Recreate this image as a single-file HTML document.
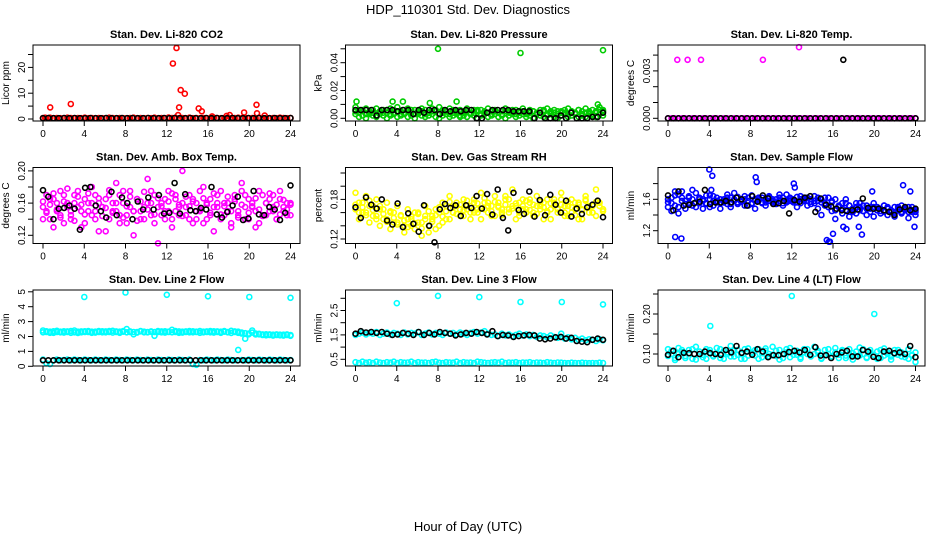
<!DOCTYPE html>
<html><head><meta charset="utf-8"><style>
body{margin:0;background:#fff}
svg{display:block;font-family:"Liberation Sans",sans-serif}
</style></head><body>
<svg id="chart" width="936" height="540" viewBox="0 0 936 540">
<text x="468" y="14" text-anchor="middle" font-size="13">HDP_110301  Std. Dev. Diagnostics</text>
<text x="468" y="531" text-anchor="middle" font-size="13">Hour of Day (UTC)</text>
</svg>
<script>
// ---- data ----
const xTicks=[0,4,8,12,16,20,24];
const co2Red=[0.4,0.3,0.5,0.3,0.4,0.3,0.3,0.5,0.4,0.3,0.4,0.3,0.5,0.3,0.4,0.3,0.4,0.3,0.3,0.5,0.4,0.3,0.4,0.3,0.3,0.4,0.5,0.3,0.4,0.3,0.4,0.3,0.5,0.3,0.4,0.3,0.6,0.4,0.5,0.3,0.4,0.3,0.5,0.3,0.4,0.3,0.4,0.3,0.3,0.5,0.4,0.3,0.4,0.3,0.3,0.4,0.5,0.3,0.4,0.3,0.4,0.3,0.5,0.3,0.4,0.3,0.4,0.3,0.5,0.4,0.3,0.4];
const co2OutT=[0.2,0.7,2.7,12.6,12.95,13.1,13.2,13.35,13.75,15.1,15.4,16.4,17.8,18.1,19.5,20.7,20.75,21.5];
const co2OutV=[0.5,4.5,5.8,21.5,27.5,1.5,4.5,11.2,9.8,4.1,3.0,1.0,1.2,1.5,2.5,5.5,2.2,1.3];
const co2Black=[0.3,0.4,0.3,0.3,0.4,0.3,0.4,0.3,0.3,0.4,0.3,0.3,0.4,0.3,0.3,0.4,0.3,0.4,0.3,0.3,0.4,0.3,0.3,0.4,0.3,0.4,0.3,0.3,0.4,0.3,0.3,0.4,0.3,0.4,0.3,0.3,0.4,0.3,0.3,0.4,0.3,0.4,0.3,0.3,0.4,0.3,0.3,0.4];
const presGreenA=[0.008,0.006,0.005,0.007,0.004,0.006,0.007,0.005,0.006,0.004,0.007,0.006,0.008,0.005,0.006,0.007,0.004,0.006,0.005,0.007,0.006,0.004,0.007,0.005,0.008,0.006,0.005,0.007,0.006,0.004,0.006,0.005,0.007,0.004,0.006,0.005,0.006,0.004,0.007,0.005,0.006,0.004,0.005,0.007,0.005,0.004,0.006,0.005,0.007,0.004,0.006,0.005,0.004,0.006,0.005,0.007,0.004,0.006,0.005,0.004,0.006,0.007,0.005,0.004,0.006,0.005,0.007,0.004,0.006,0.005,0.008,0.006];
const presGreenB=[0.003,0.001,0.002,0.000,0.003,0.002,0.001,0.003,0.002,0.000,0.002,0.003,0.001,0.002,0.003,0.001,0.002,0.000,0.003,0.002,0.001,0.002,0.003,0.001,0.000,0.002,0.003,0.001,0.002,0.003,0.001,0.002,0.001,0.003,0.002,0.000,0.002,0.003,0.001,0.002,0.003,0.001,0.002,0.000,0.002,0.003,0.001,0.002,0.003,0.001,0.002,0.000,0.003,0.002,0.001,0.002,0.003,0.001,0.000,0.002,0.003,0.001,0.002,0.003,0.001,0.002,0.001,0.003,0.002,0.001,0.003,0.002];
const presGreenC=[0.005,0.004,0.006,0.003,0.005,0.004,0.002,0.005,0.004,0.006,0.003,0.004,0.005,0.003,0.004,0.005,0.006,0.003,0.004,0.005,0.003,0.004,0.005,0.006,0.003,0.004,0.005,0.003,0.004,0.005,0.002,0.004,0.005,0.003,0.004,0.006,0.003,0.005,0.004,0.003,0.005,0.004,0.003,0.005,0.004,0.006,0.003,0.004,0.005,0.003,0.004,0.005,0.003,0.004,0.006,0.003,0.005,0.004,0.003,0.005,0.004,0.003,0.005,0.004,0.006,0.003,0.004,0.005,0.003,0.004,0.006,0.005];
const presOutT=[0.1,3.6,4.6,7.2,9.8,8.0,16.0,24.0,23.5];
const presOutV=[0.012,0.012,0.012,0.011,0.012,0.050,0.047,0.049,0.010];
const presBlack=[0.006,0.006,0.006,0.006,0.002,0.006,0.006,0.006,0.005,0.006,0.006,0.003,0.006,0.004,0.006,0.006,0.003,0.006,0.005,0.006,0.005,0.006,0.006,0.000,0.000,0.004,0.006,0.006,0.006,0.006,0.005,0.005,0.005,0.005,0.000,0.004,0.000,0.000,0.000,0.002,0.000,0.004,0.000,0.000,0.000,0.001,0.001,0.004];
const tempMag=[0,0,0,0,0,0,0,0,0,0,0,0,0,0,0,0,0,0,0,0,0,0,0,0,0,0,0,0,0,0,0,0,0,0,0,0,0,0,0,0,0,0,0,0,0,0,0,0,0,0,0,0,0,0,0,0,0,0,0,0,0,0,0,0,0,0,0,0,0,0,0,0];
const tempOutT=[0.9,1.9,3.2,9.2,12.7];
const tempOutV=[0.0037,0.0037,0.0037,0.0037,0.0045];
const tempBlack=[0,0,0,0,0,0,0,0,0,0,0,0,0,0,0,0,0,0,0,0,0,0,0,0,0,0,0,0,0,0,0,0,0,0,0,0,0,0,0,0,0,0,0,0,0,0,0,0];
const tempBlackOutT=[17.0];
const tempBlackOutV=[0.0037];
const ambMagA=[0.155,0.170,0.140,0.165,0.150,0.175,0.135,0.160,0.145,0.170,0.155,0.130,0.165,0.150,0.180,0.140,0.160,0.155,0.125,0.170,0.150,0.185,0.145,0.160,0.135,0.175,0.150,0.165,0.140,0.155,0.190,0.145,0.170,0.110,0.160,0.150,0.175,0.140,0.165,0.155,0.200,0.145,0.170,0.135,0.160,0.150,0.180,0.140,0.165,0.125,0.155,0.175,0.145,0.160,0.135,0.170,0.150,0.185,0.140,0.165,0.155,0.130,0.175,0.145,0.160,0.150,0.170,0.140,0.165,0.155,0.145,0.160];
const ambMagB=[0.140,0.150,0.165,0.130,0.160,0.145,0.170,0.155,0.140,0.160,0.175,0.150,0.135,0.160,0.145,0.170,0.125,0.155,0.165,0.140,0.160,0.150,0.135,0.175,0.145,0.155,0.120,0.165,0.150,0.140,0.160,0.175,0.135,0.155,0.145,0.165,0.150,0.130,0.170,0.145,0.160,0.155,0.140,0.165,0.150,0.175,0.135,0.160,0.145,0.155,0.170,0.140,0.160,0.150,0.130,0.165,0.145,0.175,0.155,0.140,0.160,0.150,0.135,0.170,0.145,0.165,0.155,0.140,0.175,0.150,0.160,0.145];
const ambMagC=[0.162,0.148,0.158,0.172,0.152,0.142,0.162,0.178,0.150,0.138,0.168,0.158,0.146,0.172,0.160,0.150,0.166,0.144,0.154,0.176,0.148,0.160,0.170,0.142,0.156,0.168,0.150,0.138,0.162,0.174,0.152,0.160,0.146,0.166,0.156,0.140,0.162,0.172,0.150,0.158,0.144,0.168,0.156,0.162,0.140,0.152,0.166,0.158,0.148,0.172,0.160,0.146,0.156,0.168,0.150,0.162,0.142,0.158,0.170,0.148,0.156,0.166,0.152,0.144,0.160,0.172,0.150,0.158,0.146,0.164,0.152,0.158];
const ambBlack=[0.176,0.168,0.140,0.153,0.154,0.157,0.153,0.127,0.179,0.180,0.157,0.150,0.142,0.174,0.145,0.167,0.160,0.140,0.162,0.152,0.167,0.152,0.170,0.147,0.148,0.185,0.147,0.171,0.151,0.150,0.154,0.152,0.180,0.146,0.142,0.149,0.157,0.168,0.139,0.141,0.175,0.146,0.145,0.155,0.152,0.139,0.148,0.182];
const rhYelA=[0.190,0.175,0.160,0.185,0.170,0.155,0.180,0.165,0.150,0.175,0.160,0.145,0.170,0.155,0.140,0.165,0.150,0.135,0.160,0.145,0.170,0.130,0.155,0.165,0.140,0.175,0.150,0.185,0.160,0.170,0.155,0.180,0.165,0.150,0.175,0.160,0.190,0.165,0.175,0.155,0.185,0.170,0.160,0.180,0.165,0.195,0.170,0.155,0.180,0.165,0.175,0.160,0.185,0.170,0.150,0.180,0.165,0.175,0.160,0.190,0.170,0.155,0.180,0.165,0.175,0.150,0.185,0.170,0.160,0.195,0.175,0.165];
const rhYelB=[0.165,0.150,0.175,0.160,0.145,0.170,0.155,0.140,0.165,0.150,0.135,0.160,0.145,0.155,0.130,0.150,0.140,0.160,0.145,0.125,0.155,0.140,0.150,0.135,0.160,0.145,0.170,0.150,0.160,0.175,0.165,0.155,0.170,0.160,0.180,0.165,0.150,0.175,0.160,0.170,0.155,0.175,0.165,0.185,0.160,0.170,0.150,0.175,0.165,0.160,0.180,0.155,0.170,0.165,0.175,0.160,0.150,0.170,0.165,0.180,0.155,0.170,0.160,0.175,0.150,0.165,0.180,0.160,0.170,0.155,0.175,0.165];
const rhYelC=[0.172,0.160,0.168,0.156,0.178,0.164,0.150,0.170,0.158,0.146,0.162,0.152,0.142,0.156,0.148,0.138,0.154,0.144,0.158,0.136,0.150,0.162,0.146,0.156,0.168,0.154,0.162,0.176,0.168,0.158,0.172,0.164,0.178,0.170,0.160,0.174,0.166,0.182,0.170,0.162,0.176,0.168,0.156,0.172,0.180,0.166,0.174,0.160,0.170,0.178,0.164,0.172,0.158,0.176,0.168,0.162,0.174,0.180,0.166,0.172,0.160,0.176,0.168,0.156,0.172,0.164,0.178,0.168,0.160,0.176,0.170,0.162];
const rhBlack=[0.168,0.152,0.183,0.172,0.166,0.180,0.148,0.142,0.174,0.138,0.159,0.143,0.131,0.171,0.140,0.115,0.165,0.173,0.167,0.171,0.155,0.171,0.167,0.185,0.166,0.188,0.157,0.195,0.152,0.133,0.190,0.164,0.158,0.192,0.154,0.179,0.156,0.187,0.172,0.160,0.178,0.154,0.166,0.158,0.168,0.172,0.178,0.153];
const flowBlueA=[1.60,1.55,1.65,1.50,1.70,1.58,1.62,1.52,1.68,1.55,1.60,1.65,1.50,1.58,1.62,1.55,1.60,1.66,1.54,1.60,1.63,1.57,1.60,1.52,1.65,1.58,1.62,1.55,1.60,1.64,1.56,1.60,1.62,1.55,1.66,1.58,1.60,1.63,1.55,1.60,1.62,1.57,1.64,1.58,1.60,1.55,1.62,1.58,1.60,1.50,1.55,1.60,1.52,1.48,1.55,1.50,1.45,1.52,1.48,1.55,1.50,1.45,1.52,1.48,1.44,1.50,1.46,1.52,1.48,1.44,1.50,1.46];
const flowBlueB=[1.50,1.45,1.70,1.42,1.62,1.48,1.55,1.72,1.50,1.60,1.48,1.55,1.65,1.52,1.58,1.48,1.56,1.62,1.50,1.68,1.54,1.58,1.52,1.62,1.55,1.48,1.60,1.56,1.52,1.62,1.58,1.54,1.66,1.52,1.58,1.62,1.56,1.50,1.64,1.58,1.52,1.60,1.55,1.48,1.40,1.62,1.50,1.45,1.35,1.52,1.42,1.55,1.38,1.48,1.42,1.55,1.45,1.40,1.50,1.38,1.46,1.42,1.52,1.40,1.46,1.38,1.50,1.42,1.48,1.36,1.44,1.40];
const flowBlueC=[1.56,1.62,1.52,1.66,1.58,1.54,1.64,1.60,1.56,1.62,1.58,1.54,1.60,1.64,1.56,1.60,1.58,1.54,1.62,1.58,1.56,1.60,1.64,1.58,1.54,1.60,1.58,1.62,1.56,1.58,1.60,1.56,1.58,1.62,1.56,1.60,1.58,1.56,1.60,1.62,1.58,1.54,1.58,1.62,1.56,1.52,1.50,1.56,1.46,1.50,1.48,1.46,1.52,1.44,1.50,1.46,1.52,1.48,1.44,1.50,1.46,1.48,1.44,1.50,1.46,1.42,1.48,1.44,1.46,1.50,1.46,1.44];
const flowOutT=[0.7,1.3,4.0,4.3,4.2,8.5,8.6,12.2,12.3,15.4,15.6,15.7,16.0,17.0,17.3,18.5,18.8,19.8,22.8,23.5,23.9];
const flowOutV=[1.12,1.10,1.98,1.90,1.72,1.88,1.82,1.80,1.75,1.08,1.06,1.06,1.16,1.25,1.22,1.25,1.15,1.70,1.78,1.70,1.25];
const flowBlack=[1.65,1.46,1.70,1.52,1.53,1.55,1.57,1.72,1.54,1.56,1.56,1.58,1.56,1.62,1.60,1.52,1.64,1.57,1.65,1.61,1.54,1.55,1.58,1.42,1.59,1.57,1.62,1.64,1.44,1.61,1.53,1.51,1.48,1.46,1.45,1.46,1.47,1.61,1.49,1.48,1.48,1.46,1.44,1.40,1.47,1.50,1.46,1.48];
const l2CyanHi=[2.40,2.30,2.25,2.35,2.30,2.28,2.35,2.30,2.25,2.40,2.32,2.28,2.35,2.30,2.25,2.32,2.30,2.35,2.28,2.30,2.38,2.30,2.25,2.32,2.50,2.30,2.15,2.30,2.35,2.28,2.30,2.32,2.05,2.30,2.28,2.35,2.30,2.45,2.30,2.25,2.32,2.30,2.28,2.35,2.30,2.25,2.32,2.30,2.28,2.35,2.30,2.25,2.32,2.30,2.38,2.30,2.25,2.20,1.85,2.15,2.40,2.20,2.15,2.10,2.15,2.10,2.12,2.10,2.08,2.12,2.10,2.05];
const l2CyanMid=[2.28,2.35,2.32,2.25,2.38,2.32,2.26,2.34,2.36,2.28,2.24,2.34,2.30,2.36,2.32,2.26,2.36,2.28,2.34,2.36,2.26,2.34,2.32,2.36,2.28,2.34,2.30,2.26,2.36,2.32,2.28,2.34,2.30,2.36,2.34,2.26,2.32,2.28,2.36,2.34,2.26,2.34,2.36,2.28,2.32,2.36,2.28,2.34,2.36,2.26,2.34,2.32,2.36,2.28,2.24,2.34,2.32,2.26,2.22,2.20,2.26,2.14,2.18,2.14,2.08,2.14,2.06,2.14,2.12,2.06,2.14,2.10];
const l2CyanLo=[0.45,0.20,0.15,0.40,0.45,0.40,0.42,0.45,0.40,0.45,0.42,0.40,0.45,0.42,0.40,0.45,0.42,0.40,0.45,0.42,0.40,0.45,0.42,0.40,0.45,0.42,0.40,0.45,0.42,0.40,0.45,0.42,0.40,0.45,0.42,0.40,0.45,0.42,0.40,0.45,0.42,0.40,0.45,0.15,0.10,0.42,0.40,0.45,0.42,0.40,0.45,0.42,0.40,0.45,0.42,0.40,1.10,0.42,0.40,0.45,0.42,0.40,0.45,0.42,0.40,0.45,0.42,0.40,0.45,0.42,0.40,0.42];
const l2OutT=[4.0,8.0,12.0,16.0,20.0,24.0];
const l2OutV=[4.65,4.95,4.8,4.7,4.65,4.6];
const l2Black=[0.40,0.40,0.40,0.40,0.40,0.40,0.40,0.40,0.40,0.40,0.40,0.40,0.40,0.40,0.40,0.40,0.40,0.40,0.40,0.40,0.40,0.40,0.40,0.40,0.40,0.40,0.40,0.40,0.40,0.40,0.40,0.40,0.40,0.40,0.40,0.40,0.40,0.40,0.40,0.40,0.40,0.40,0.40,0.40,0.40,0.40,0.40,0.40];
const l3CyanHi=[1.50,1.55,1.60,1.52,1.58,1.55,1.62,1.50,1.55,1.60,1.52,1.58,1.55,1.50,1.60,1.52,1.58,1.55,1.62,1.50,1.55,1.60,1.52,1.58,1.55,1.50,1.60,1.55,1.58,1.52,1.60,1.55,1.50,1.58,1.62,1.55,1.60,1.65,1.55,1.50,1.52,1.45,1.55,1.48,1.52,1.45,1.50,1.55,1.48,1.52,1.45,1.50,1.42,1.48,1.45,1.40,1.48,1.42,1.38,1.55,1.35,1.40,1.32,1.38,1.30,1.35,1.28,1.32,1.30,1.25,1.32,1.28];
const l3CyanLo=[0.38,0.35,0.40,0.36,0.38,0.35,0.40,0.37,0.35,0.38,0.36,0.40,0.35,0.38,0.36,0.37,0.40,0.35,0.38,0.36,0.37,0.35,0.38,0.40,0.36,0.35,0.38,0.37,0.36,0.40,0.35,0.38,0.36,0.37,0.35,0.40,0.38,0.36,0.35,0.37,0.38,0.36,0.40,0.35,0.37,0.36,0.38,0.35,0.37,0.36,0.38,0.35,0.37,0.36,0.35,0.38,0.36,0.35,0.37,0.36,0.35,0.34,0.36,0.35,0.34,0.36,0.35,0.34,0.35,0.34,0.36,0.35];
const l3OutT=[4.0,8.0,12.0,16.0,20.0,24.0];
const l3OutV=[2.80,3.10,3.05,2.85,2.85,2.75];
const l3Black=[1.55,1.65,1.60,1.62,1.58,1.62,1.55,1.50,1.52,1.58,1.55,1.50,1.62,1.50,1.58,1.52,1.62,1.58,1.55,1.48,1.52,1.58,1.55,1.62,1.58,1.52,1.65,1.45,1.50,1.48,1.42,1.45,1.48,1.50,1.48,1.35,1.32,1.35,1.40,1.42,1.35,1.38,1.25,1.22,1.20,1.30,1.35,1.30];
const l4CyanA=[0.112,0.100,0.090,0.115,0.105,0.095,0.110,0.088,0.118,0.100,0.092,0.112,0.104,0.096,0.115,0.090,0.108,0.100,0.120,0.094,0.110,0.100,0.088,0.114,0.102,0.096,0.112,0.092,0.108,0.100,0.118,0.095,0.110,0.090,0.104,0.115,0.098,0.108,0.092,0.112,0.100,0.095,0.118,0.104,0.090,0.110,0.100,0.094,0.115,0.098,0.108,0.090,0.112,0.102,0.095,0.116,0.100,0.092,0.110,0.098,0.106,0.090,0.114,0.100,0.094,0.110,0.098,0.104,0.092,0.112,0.098,0.104];
const l4CyanB=[0.095,0.108,0.085,0.100,0.110,0.090,0.102,0.112,0.086,0.106,0.098,0.088,0.110,0.094,0.102,0.112,0.088,0.104,0.094,0.108,0.098,0.088,0.112,0.096,0.104,0.110,0.088,0.102,0.114,0.094,0.098,0.108,0.086,0.100,0.112,0.092,0.106,0.098,0.088,0.104,0.112,0.094,0.100,0.108,0.088,0.098,0.112,0.094,0.104,0.090,0.110,0.096,0.100,0.086,0.106,0.096,0.112,0.090,0.104,0.098,0.088,0.110,0.096,0.104,0.086,0.100,0.110,0.094,0.100,0.088,0.096,0.080];
const l4OutT=[4.1,12.0,20.0];
const l4OutV=[0.170,0.245,0.200];
const l4Black=[0.098,0.108,0.092,0.103,0.102,0.100,0.100,0.106,0.102,0.100,0.098,0.110,0.104,0.120,0.103,0.106,0.098,0.112,0.106,0.092,0.097,0.097,0.100,0.105,0.108,0.104,0.110,0.098,0.117,0.096,0.097,0.090,0.100,0.104,0.108,0.094,0.094,0.110,0.106,0.093,0.090,0.106,0.108,0.102,0.104,0.100,0.120,0.092];

// ---- layout (geometry, not data) ----
const NS='http://www.w3.org/2000/svg';
const svg=document.getElementById('chart');
const colLeft=[33,345.5,658], boxW=267;
const rowTop=[45,167.5,290], boxH=76;
function el(tag,attrs,parent){const e=document.createElementNS(NS,tag);for(const k in attrs)e.setAttribute(k,attrs[k]);(parent||svg).appendChild(e);return e;}

const panels=[
 {title:'Stan. Dev. Li-820 CO2',ylab:'Licor ppm',r:0,c:0,v0:0,p0:119,k:-2.58,ticks:[0,5,10,15,20,25],labs:{0:'0',10:'10',20:'20'},
  series:[[null,co2Red,'#ff0000'],[co2OutT,co2OutV,'#ff0000'],[null,co2Black,'#000']]},
 {title:'Stan. Dev. Li-820 Pressure',ylab:'kPa',r:0,c:1,v0:0,p0:118.3,k:-1390,ticks:[0,0.01,0.02,0.03,0.04,0.05],labs:{0:'0.00',0.02:'0.02',0.04:'0.04'},
  series:[[null,presGreenA,'#00cc00'],[null,presGreenB,'#00cc00'],[null,presGreenC,'#00cc00'],[presOutT,presOutV,'#00cc00'],[null,presBlack,'#000']]},
 {title:'Stan. Dev. Li-820 Temp.',ylab:'degrees C',r:0,c:2,v0:0,p0:118.3,k:-15800,ticks:[0,0.001,0.002,0.003,0.004],labs:{0:'0.000',0.003:'0.003'},
  series:[[null,tempMag,'#ff00ff'],[tempOutT,tempOutV,'#ff00ff'],[null,tempBlack,'#000'],[tempBlackOutT,tempBlackOutV,'#000']]},
 {title:'Stan. Dev. Amb. Box Temp.',ylab:'degrees C',r:1,c:0,v0:0.12,p0:235.3,k:-805,ticks:[0.12,0.14,0.16,0.18,0.20],labs:{0.12:'0.12',0.16:'0.16',0.2:'0.20'},
  series:[[null,ambMagA,'#ff00ff'],[null,ambMagB,'#ff00ff'],[null,ambMagC,'#ff00ff'],[null,ambBlack,'#000']]},
 {title:'Stan. Dev. Gas Stream RH',ylab:'percent',r:1,c:1,v0:0.12,p0:239,k:-660,ticks:[0.12,0.14,0.16,0.18,0.20,0.22],labs:{0.12:'0.12',0.18:'0.18'},
  series:[[null,rhYelA,'#ffff00'],[null,rhYelB,'#ffff00'],[null,rhYelC,'#ffff00'],[null,rhBlack,'#000']]},
 {title:'Stan. Dev. Sample Flow',ylab:'ml/min',r:1,c:2,v0:1.2,p0:230.7,k:-78.5,ticks:[1.2,1.4,1.6,1.8],labs:{1.2:'1.2',1.6:'1.6'},
  series:[[null,flowBlueA,'#0000ff'],[null,flowBlueB,'#0000ff'],[null,flowBlueC,'#0000ff'],[flowOutT,flowOutV,'#0000ff'],[null,flowBlack,'#000']]},
 {title:'Stan. Dev. Line 2 Flow',ylab:'ml/min',r:2,c:0,v0:0,p0:366.3,k:-14.9,ticks:[0,1,2,3,4,5],labs:{0:'0',1:'1',2:'2',3:'3',4:'4',5:'5'},
  series:[[null,l2CyanHi,'#00ffff'],[null,l2CyanMid,'#00ffff'],[null,l2CyanLo,'#00ffff'],[l2OutT,l2OutV,'#00ffff'],[null,l2Black,'#000']]},
 {title:'Stan. Dev. Line 3 Flow',ylab:'ml/min',r:2,c:1,v0:0.5,p0:359.3,k:-24.4,ticks:[0.5,1,1.5,2,2.5,3],labs:{0.5:'0.5',1.5:'1.5',2.5:'2.5'},
  series:[[null,l3CyanHi,'#00ffff'],[null,l3CyanLo,'#00ffff'],[l3OutT,l3OutV,'#00ffff'],[null,l3Black,'#000']]},
 {title:'Stan. Dev. Line 4 (LT) Flow',ylab:'ml/min',r:2,c:2,v0:0.1,p0:354,k:-400,ticks:[0.1,0.15,0.2,0.25],labs:{0.1:'0.10',0.2:'0.20'},
  series:[[null,l4CyanA,'#00ffff'],[null,l4CyanB,'#00ffff'],[l4OutT,l4OutV,'#00ffff'],[null,l4Black,'#000']]}
];

panels.forEach((p,pi)=>{
  const L=colLeft[p.c], T=rowTop[p.r], B=T+boxH;
  const xs=t=>L+10+t/24*247.5;
  const ys=v=>p.p0+(v-p.v0)*p.k;
  const g=el('g',{});
  
  
  const t=el('text',{x:L+boxW/2,y:T-7,'text-anchor':'middle','font-size':'11','font-weight':'bold'},g);
  t.textContent=p.title;
  
  
  const yl=el('text',{x:0,y:0,'text-anchor':'middle','font-size':'10',transform:`translate(${L-24},${T+boxH/2}) rotate(-90)`},g);
  yl.textContent=p.ylab;
  
  
  const pts=el('g',{fill:'none','stroke-width':'1.6'},g);
  
  
  p.series.forEach(([times,vals,col])=>{
    vals.forEach((v,i)=>{
      const tt=times?times[i]:24*i/(vals.length-1);
      const c=el('circle',{cx:xs(tt).toFixed(1),cy:ys(v).toFixed(1),r:'2.5',stroke:col},pts);
      
      
    });
  });
  const box=el('rect',{x:L,y:T,width:boxW,height:boxH,fill:'none',stroke:'#000','stroke-width':'1'},g);
  
  
  xTicks.forEach(v=>{
    const x=xs(v);
    el('line',{x1:x,x2:x,y1:B,y2:B+5,stroke:'#000'},g);
    const lt=el('text',{x:x,y:B+16,'text-anchor':'middle','font-size':'10'},g);
    lt.textContent=v;
    
    
  });
  p.ticks.forEach(v=>{
    const y=ys(v);
    el('line',{x1:L,x2:L-5,y1:y,y2:y,stroke:'#000'},g);
    const key=Object.keys(p.labs).find(k=>Math.abs(parseFloat(k)-v)<1e-9);
    if(key!==undefined){
      const lt=el('text',{x:0,y:0,'text-anchor':'middle','font-size':'10',transform:`translate(${L-8},${y}) rotate(-90)`},g);
      lt.textContent=p.labs[key];
      
      
    }
  });
});
</script>
</body></html>
